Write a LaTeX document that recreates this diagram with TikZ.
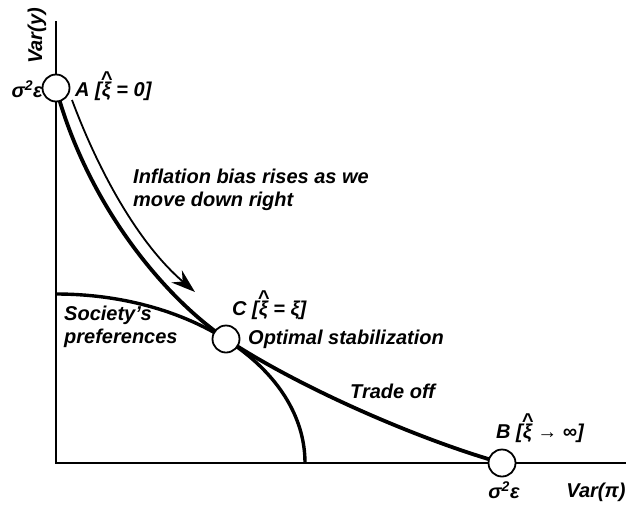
\documentclass[tikz,border=0pt]{standalone}
\usepackage{fontspec}
\setmainfont{Liberation Sans}
\usetikzlibrary{arrows.meta}
\newcommand\hatxi{\ooalign{ξ\cr\hidewidth\raisebox{0.55em}{\^{}}\hidewidth\cr}}
\begin{document}
\begin{tikzpicture}[x=1pt,y=-1pt,
  lbl/.style={inner sep=0pt,font=\fontsize{20}{23.5}\selectfont\bfseries\itshape},
  axis/.style={line width=2pt},
  front/.style={line width=3.8pt},
  pref/.style={line width=3.4pt},
  pt/.style={circle,draw,line width=1.8pt,fill=white,minimum size=27pt,inner sep=0pt}]
\useasboundingbox (0,0) rectangle (626,504);
\coordinate (O) at (56,463);
\coordinate (ytop) at (56,21);
\coordinate (xend) at (626,463);
\draw[axis] (ytop) -- (O) -- (xend);
% society's preferences
\coordinate (P0) at (56,294);
\draw[pref] (P0) arc[start angle=-90,end angle=0,x radius=249,y radius=169];
% frontier
\coordinate (pA) at (56,88);
\coordinate (pC) at (226,339);
\coordinate (pB) at (502,463);
\draw[front] (pA) .. controls (86,200) and (160,294) .. (pC)
  .. controls (300,388) and (420,440) .. (pB);
% arrow
\coordinate (a0) at (72,100);
\coordinate (a1) at (195,292);
\draw[line width=1.8pt,-{Stealth[length=24pt,width=16pt]}] (a0) .. controls (100,175) and (140,245) .. (a1);
% points
\node[pt] (A) at (pA) {};
\node[pt] (C) at (pC) {};
\node[pt] (B) at (pB) {};
% labels
\node[lbl,rotate=90] (vy) at (37,36) {Var(y)};
\node[lbl,anchor=east] (sA) at (43,89) {σ\textsuperscript{2}ε};
\node[lbl,anchor=west] (lA) at (75,91) {A [\hatxi\ = 0]};
\node[lbl,anchor=west,align=left] (infl) at (133,190) {Inflation bias rises as we\\move down right};
\node[lbl,anchor=west] (lC) at (232,310) {C [\hatxi\ = ξ]};
\node[lbl,anchor=west] (opt) at (248,339) {Optimal stabilization};
\node[lbl,anchor=west,align=left] (soc) at (64,327) {Society's\\preferences};
\node[lbl,anchor=west] (tr) at (350,391) {Trade off};
\node[lbl,anchor=west] (lB) at (496,433) {B [\hatxi\ → ∞]};
\node[lbl] (sB) at (504,490) {σ\textsuperscript{2}ε};
\node[lbl] (vp) at (596,492) {Var(π)};
\end{tikzpicture}
\end{document}
